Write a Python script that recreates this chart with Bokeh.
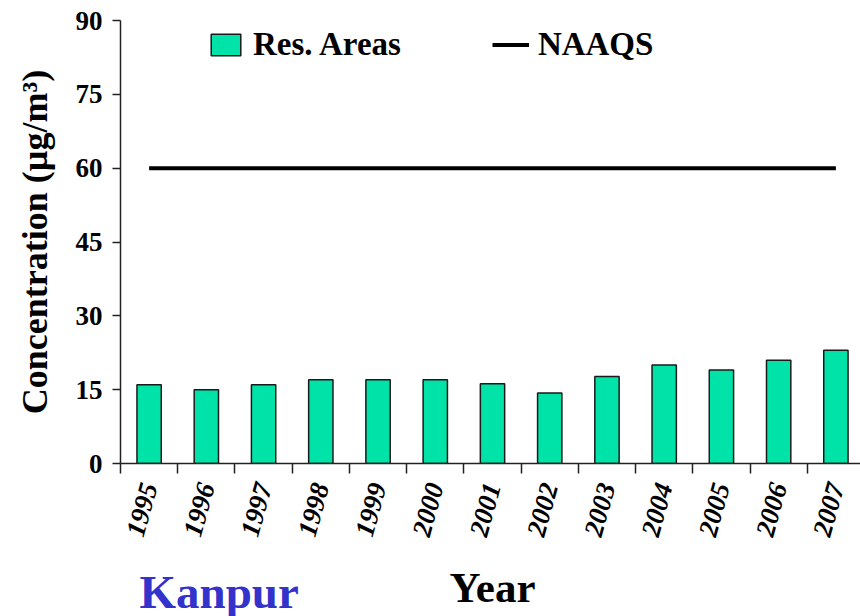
from bokeh.plotting import figure
from bokeh.layouts import column
from bokeh.models import Range1d, FixedTicker, Label, Legend, LegendItem
from bokeh.embed import file_html
from bokeh.resources import INLINE

# Annual mean concentration in residential areas, Kanpur
years = ["1995", "1996", "1997", "1998", "1999", "2000", "2001",
         "2002", "2003", "2004", "2005", "2006", "2007"]
res_areas = [16.0, 15.0, 16.0, 17.0, 17.0, 17.0, 16.2, 14.3, 17.7, 20.0, 19.0, 21.0, 23.0]
naaqs = [60] * len(years)
y_ticks = [0, 15, 30, 45, 60, 75, 90]

FONT = "Liberation Serif"

# categories sit at i + 0.5 so that tick marks fall on the category boundaries
xc = [i + 0.5 for i in range(len(years))]

p = figure(width=860, height=556, output_backend="svg", toolbar_location=None,
           title=None,
           x_range=Range1d(0, 12.93), y_range=Range1d(0, 90),
           min_border_left=120, min_border_right=0, min_border_top=20,
           min_border_bottom=93)
p.outline_line_color = None
p.xgrid.visible = False
p.ygrid.visible = False
p.background_fill_color = "white"
p.border_fill_color = "white"

bars = p.vbar(x=xc, top=res_areas, width=0.425, fill_color="#00E3A8",
              line_color="#1a1a1a", line_width=1.5)
std = p.line(x=xc, y=naaqs, line_color="black", line_width=4)

# y axis
yax = p.yaxis[0]
yax.ticker = FixedTicker(ticks=y_ticks, minor_ticks=[])
yax.axis_line_color = "#222222"
yax.axis_line_width = 1.5
yax.major_tick_line_color = "#222222"
yax.major_tick_line_width = 1.5
yax.major_tick_out = 8
yax.major_tick_in = 0
yax.major_label_standoff = 10
yax.major_label_text_font = FONT
yax.major_label_text_font_style = "bold"
yax.major_label_text_font_size = "27px"
yax.major_label_text_color = "black"
yax.axis_label = "Concentration (µg/m³)"
yax.axis_label_text_font = FONT
yax.axis_label_text_font_style = "bold"
yax.axis_label_text_font_size = "36px"
yax.axis_label_text_color = "black"
yax.axis_label_standoff = 18

# x axis: labels at category centres, tick marks between categories
xax = p.xaxis[0]
xax.ticker = FixedTicker(ticks=xc, minor_ticks=list(range(len(years) + 1)))
xax.major_label_overrides = {x: y for x, y in zip(xc, years)}
xax.axis_line_color = "#222222"
xax.axis_line_width = 1.5
xax.major_tick_line_color = None
xax.major_tick_out = 0
xax.major_tick_in = 0
xax.minor_tick_line_color = "#222222"
xax.minor_tick_line_width = 1.5
xax.minor_tick_out = 10
xax.minor_tick_in = 0
xax.major_label_orientation = 1.3
xax.major_label_standoff = 10
xax.major_label_text_font = FONT
xax.major_label_text_font_style = "bold italic"
xax.major_label_text_font_size = "27px"
xax.major_label_text_color = "black"

legend = Legend(
    items=[LegendItem(label="Res. Areas", renderers=[bars]),
           LegendItem(label="NAAQS", renderers=[std])],
    orientation="horizontal", location=(87, 400),
    background_fill_alpha=0, border_line_color=None, padding=0, margin=0,
    spacing=91, label_standoff=9, glyph_width=37, glyph_height=27,
    label_text_font=FONT, label_text_font_style="bold",
    label_text_font_size="33px", label_text_color="black",
)
p.add_layout(legend)

# strip under the chart carrying the city name and the x-axis title
foot = figure(width=860, height=60, output_backend="svg", toolbar_location=None,
              title=None,
              x_range=Range1d(0, 1), y_range=Range1d(0, 1),
              x_axis_location=None, y_axis_location=None,
              min_border_left=0, min_border_right=0,
              min_border_top=0, min_border_bottom=0)
foot.outline_line_color = None
foot.xgrid.visible = False
foot.ygrid.visible = False
foot.background_fill_color = "white"
foot.border_fill_color = "white"

foot.add_layout(Label(x=139, y=35, x_units="canvas", y_units="canvas",
                      text="Kanpur", text_font=FONT,
                      text_font_style="bold", text_font_size="47px",
                      text_color="#3333CC", text_baseline="middle"))
foot.add_layout(Label(x=492, y=31, x_units="canvas", y_units="canvas",
                      text="Year", text_font=FONT,
                      text_font_style="bold", text_font_size="43px",
                      text_color="black", text_align="center",
                      text_baseline="middle"))

layout = column(p, foot, spacing=0)
open("out.html", "w").write(file_html(layout, INLINE))
